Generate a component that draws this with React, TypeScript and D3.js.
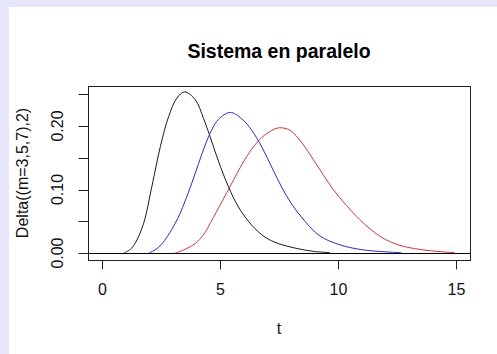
import React from "react";
import * as d3 from "d3";

// Densities over t for m = 3, 5, 7 (black, blue, red)
const tM3 = [0.92, 1.2, 1.41, 1.76, 2.11, 2.47, 2.82, 3.17, 3.5, 3.95, 4.3, 4.58, 4.93, 5.36, 5.78, 6.35, 6.91, 7.47, 8.3, 8.95, 9.66];
const vM3 = [0, 0.006, 0.016, 0.047, 0.105, 0.168, 0.215, 0.244, 0.2537, 0.2415, 0.212, 0.183, 0.145, 0.104, 0.0725, 0.0436, 0.025, 0.015, 0.0069, 0.0027, 0.0006];

const tM5 = [1.97, 2.2, 2.5, 2.8, 3.1, 3.3, 3.52, 3.81, 4.09, 4.37, 4.65, 4.93, 5.43, 5.92, 6.35, 6.77, 7.19, 7.61, 8.04, 8.6, 9.23, 10.08, 11.07, 12.69];
const vM5 = [0, 0.004, 0.013, 0.028, 0.047, 0.062, 0.082, 0.111, 0.141, 0.17, 0.194, 0.2105, 0.2215, 0.2115, 0.193, 0.167, 0.1355, 0.104, 0.077, 0.05, 0.027, 0.013, 0.005, 0.0005];

const tM7 = [3.1, 3.52, 3.95, 4.3, 4.6, 5.08, 5.5, 5.92, 6.35, 6.77, 7.19, 7.45, 7.8, 8.1, 8.6, 9.02, 9.4, 9.8, 10.36, 10.93, 11.32, 11.84, 12.55, 13.25, 13.96, 14.95];
const vM7 = [0, 0.006, 0.015, 0.029, 0.048, 0.081, 0.11, 0.139, 0.164, 0.182, 0.193, 0.197, 0.196, 0.1895, 0.167, 0.1435, 0.122, 0.1, 0.075, 0.0525, 0.0395, 0.025, 0.013, 0.007, 0.0035, 0.0005];

const xTicks = [0, 5, 10, 15];
const yTicks = [0, 0.05, 0.1, 0.15, 0.2, 0.25];
const yLabelled = [0, 0.1, 0.2];

const title = "Sistema en paralelo";
const xTitle = "t";
const yTitle = "Delta((m=3,5,7),2)";

const W = 497;
const H = 354;
const FONT = "'Liberation Sans', Arial, Helvetica, sans-serif";

export default function App() {
  const left = 88, right = 470, top = 86, bottom = 260;
  const xMin = 0, xMax = 15;
  const yMin = 0, yMax = d3.max(vM3) as number;
  const xPad = (xMax - xMin) * 0.04;
  const yPad = (yMax - yMin) * 0.04;

  const x = d3.scaleLinear().domain([xMin - xPad, xMax + xPad]).range([left, right]);
  const y = d3.scaleLinear().domain([yMin - yPad, yMax + yPad]).range([bottom - 0.5, top - 0.5]);

  const line = d3
    .line<[number, number]>()
    .x((d) => x(d[0]))
    .y((d) => y(Math.max(0, d[1])))
    .curve(d3.curveCatmullRom.alpha(0.5));

  const series = [
    { t: tM3, v: vM3, color: "#1a1a1a" },
    { t: tM5, v: vM5, color: "#2a2ac8" },
    { t: tM7, v: vM7, color: "#cc3838" },
  ];

  const cx = (left + right) / 2;
  const cy = (top + bottom) / 2;

  return (
    <svg
      width={W}
      height={H}
      style={{ position: "fixed", left: 0, top: 0, display: "block" }}
      fontFamily={FONT}
    >
      <rect x={0} y={0} width={W} height={H} fill="#e6e6fa" />
      <rect x={9} y={7} width={W - 9} height={H - 7} fill="#ffffff" />

      <text x={cx} y={57.5} textAnchor="middle" fontSize={19.5} fontWeight="bold" fill="#000">
        {title}
      </text>

      {/* zero reference line */}
      <line x1={left} x2={right} y1={Math.round(y(0)) + 0.5} y2={Math.round(y(0)) + 0.5} stroke="#000" strokeWidth={1} />

      {series.map((s, i) => (
        <path
          key={i}
          d={line(s.t.map((t, j) => [t, s.v[j]] as [number, number])) || ""}
          fill="none"
          stroke={s.color}
          strokeWidth={1}
        />
      ))}

      <rect x={left + 0.5} y={top + 0.5} width={right - left} height={bottom - top} fill="none" stroke="#222" strokeWidth={1} />

      {/* x axis */}
      {xTicks.map((t) => {
        const px = Math.round(x(t)) + 0.5;
        return (
          <g key={"x" + t}>
            <line x1={px} x2={px} y1={bottom + 0.5} y2={bottom + 9.5} stroke="#222" />
            <text x={px} y={295} textAnchor="middle" fontSize={16} fill="#111">
              {String(t)}
            </text>
          </g>
        );
      })}
      <text x={cx} y={334} textAnchor="middle" fontSize={16} fill="#111">
        {xTitle}
      </text>

      {/* y axis */}
      {yTicks.map((v) => {
        const py = Math.round(y(v)) + 0.5;
        return (
          <line key={"y" + v} x1={left + 0.5} x2={left - 9.5} y1={py} y2={py} stroke="#222" />
        );
      })}
      {yLabelled.map((v) => (
        <text
          key={"yl" + v}
          transform={`translate(63, ${y(v)}) rotate(-90)`}
          textAnchor="middle"
          fontSize={16}
          fill="#111"
        >
          {v.toFixed(2)}
        </text>
      ))}
      <text
        transform={`translate(27.5, ${cy}) rotate(-90)`}
        textAnchor="middle"
        fontSize={16}
        fill="#111"
      >
        {yTitle}
      </text>
    </svg>
  );
}
